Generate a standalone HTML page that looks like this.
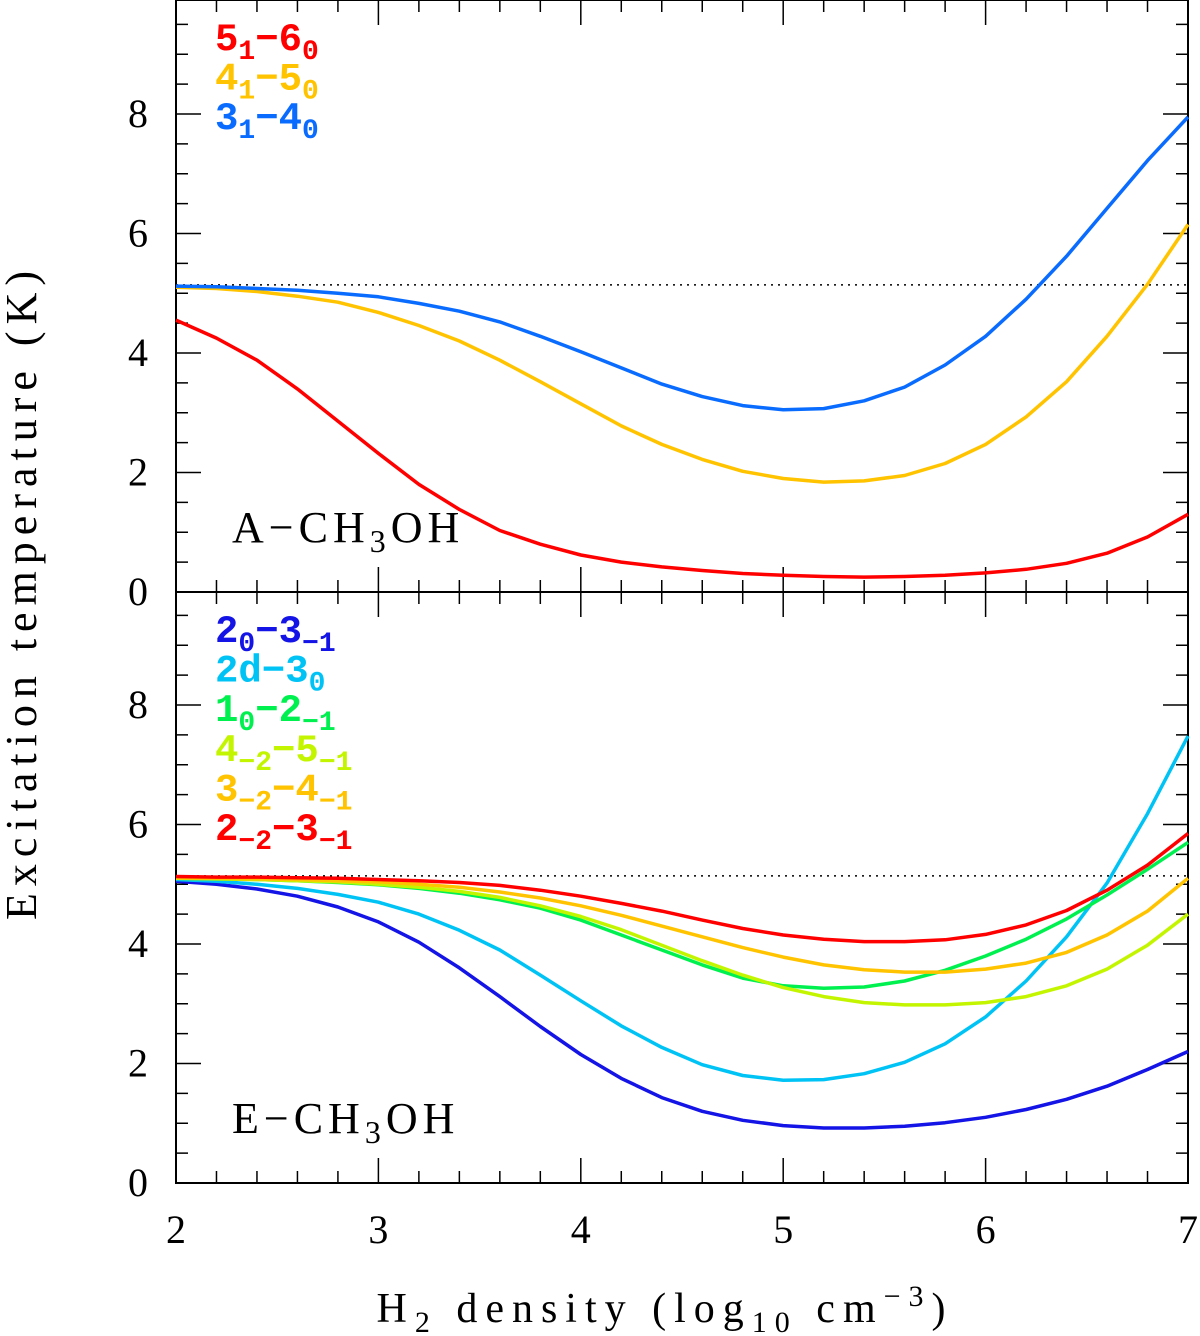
<!DOCTYPE html>
<html><head><meta charset="utf-8"><style>body{margin:0;background:#fff}svg{display:block}</style></head>
<body>
<svg id="chart" width="1200" height="1336" xmlns="http://www.w3.org/2000/svg"></svg>
<script>
const xValues=[2,2.2,2.4,2.6,2.8,3,3.2,3.4,3.6,3.8,4,4.2,4.4,4.6,4.8,5,5.2,5.4,5.6,5.8,6,6.2,6.4,6.6,6.8,7];
const xTicks=[2,3,4,5,6,7];
const yTicks=[0,2,4,6,8];
const refLevel=5.14;
const topLabels=["5_{1}−6_{0}","4_{1}−5_{0}","3_{1}−4_{0}"];
const topColors=["#ff0000","#ffc300","#0a6cff"];
const aRed=[4.55,4.25,3.88,3.4,2.86,2.32,1.8,1.38,1.03,0.8,0.62,0.5,0.42,0.36,0.31,0.28,0.26,0.25,0.26,0.28,0.32,0.38,0.48,0.65,0.92,1.3];
const aYellow=[5.1,5.08,5.03,4.95,4.85,4.68,4.46,4.2,3.88,3.52,3.15,2.78,2.47,2.22,2.02,1.9,1.84,1.86,1.95,2.15,2.47,2.93,3.52,4.28,5.15,6.15];
const aBlue=[5.12,5.11,5.08,5.05,5.0,4.94,4.83,4.7,4.52,4.28,4.02,3.75,3.48,3.27,3.12,3.05,3.07,3.2,3.43,3.8,4.28,4.9,5.62,6.42,7.22,7.95];
const botLabels=["2_{0}−3_{−1}","2d−3_{0}","1_{0}−2_{−1}","4_{−2}−5_{−1}","3_{−2}−4_{−1}","2_{−2}−3_{−1}"];
const botColors=["#1414e6","#00c3f5","#00f050","#c4f500","#ffc300","#ff0000"];
const eDarkBlue=[5.05,5.0,4.92,4.8,4.62,4.37,4.03,3.6,3.12,2.62,2.15,1.75,1.43,1.2,1.05,0.96,0.92,0.92,0.95,1.01,1.1,1.23,1.4,1.62,1.9,2.2];
const eCyan=[5.08,5.05,5.0,4.93,4.83,4.7,4.5,4.23,3.9,3.48,3.05,2.63,2.27,1.98,1.8,1.72,1.73,1.83,2.02,2.33,2.78,3.38,4.12,5.02,6.18,7.48];
const eGreen=[5.1,5.09,5.08,5.06,5.03,4.99,4.93,4.85,4.74,4.6,4.4,4.15,3.9,3.65,3.43,3.3,3.26,3.28,3.38,3.56,3.8,4.08,4.42,4.82,5.25,5.7];
const eYellowGreen=[5.1,5.09,5.08,5.06,5.04,5.0,4.95,4.88,4.78,4.64,4.46,4.24,3.98,3.72,3.48,3.27,3.12,3.02,2.98,2.98,3.02,3.12,3.3,3.58,3.98,4.5];
const eOrange=[5.11,5.1,5.09,5.08,5.06,5.04,5.0,4.95,4.87,4.77,4.64,4.48,4.3,4.12,3.94,3.78,3.65,3.57,3.53,3.53,3.58,3.68,3.86,4.15,4.55,5.1];
const eRed=[5.13,5.12,5.12,5.11,5.1,5.08,5.06,5.03,4.98,4.9,4.8,4.68,4.55,4.4,4.26,4.15,4.08,4.04,4.04,4.07,4.16,4.32,4.56,4.9,5.32,5.85];

const NS="http://www.w3.org/2000/svg";
const svg=document.getElementById('chart');
const X0=176,X1=1188;
const xs=v=>X0+(v-2)/5*(X1-X0);
function mk(tag,attrs,parent){const e=document.createElementNS(NS,tag);for(const k in attrs)e.setAttribute(k,attrs[k]);(parent||svg).appendChild(e);return e;}
function legendText(str,x,y,color,parent){
  const t=mk('text',{x:x,y:y,fill:color,'font-family':'"Liberation Mono","DejaVu Sans Mono",monospace','font-weight':'bold','font-size':'39'},parent);
  const parts=str.split(/(_\{[^}]*\})/);
  let sub=false;
  parts.forEach(p=>{if(!p)return;const ts=document.createElementNS(NS,'tspan');
    if(p.startsWith('_{')){ts.textContent=p.slice(2,-1);ts.setAttribute('font-size','28');ts.setAttribute('dy','9');sub=true;}
    else{ts.textContent=p;if(sub){ts.setAttribute('dy','-9');sub=false;}}
    t.appendChild(ts);});
  return t;
}
function panel(name,top,bottom,series,colors,labels,title){
  const g=mk('g',{});
  
  
  const ys=v=>bottom-v/8*478;
  const fr=mk('rect',{x:X0,y:top,width:X1-X0,height:bottom-top,fill:'none',stroke:'#000','stroke-width':2},g);
  
  
  for(let i=0;i<=25;i++){const v=2+i*0.2;const x=xs(v);const major=i%5===0;const L=major?25:12;
    mk('line',{x1:x,y1:bottom,x2:x,y2:bottom-L,stroke:'#000','stroke-width':1.5},g);
    mk('line',{x1:x,y1:top,x2:x,y2:top+L,stroke:'#000','stroke-width':1.5},g);}
  for(let v=0;v<=10;v+=0.5){const y=ys(v);if(y<top)break;const major=Math.abs(v/2-Math.round(v/2))<1e-6;const L=major?25:12;
    mk('line',{x1:X0,y1:y,x2:X0+L,y2:y,stroke:'#000','stroke-width':1.5},g);
    mk('line',{x1:X1,y1:y,x2:X1-L,y2:y,stroke:'#000','stroke-width':1.5},g);}
  yTicks.forEach(v=>{const t=mk('text',{x:148,y:ys(v)+13,'text-anchor':'end','font-family':'"Liberation Serif",serif','font-size':'40'},g);t.textContent=v;
    
    });
  const rl=mk('line',{x1:X0,y1:ys(refLevel),x2:X1,y2:ys(refLevel),stroke:'#000','stroke-width':1.5,'stroke-dasharray':'2,5'},g);
  
  
  series.forEach((s,k)=>{const d=s.map((v,i)=>(i?'L':'M')+xs(xValues[i]).toFixed(1)+','+ys(v).toFixed(1)).join('');
    const p=mk('path',{d:d,fill:'none',stroke:colors[k],'stroke-width':3.5,'stroke-linejoin':'round'},g);
    
    });
  labels.forEach((l,k)=>{const t=legendText(l,215,top+50+k*39.6,colors[k],g);
    
    });
  const tt=mk('text',{x:232,y:bottom-50,'font-family':'"Liberation Serif",serif','font-size':'44','letter-spacing':'5'},g);
  tt.innerHTML=title[0]+'<tspan font-size="32" dy="10">3</tspan><tspan dy="-10">OH</tspan>';
  
  
}
panel('a-ch3oh',0,592,[aRed,aYellow,aBlue],topColors,topLabels,['A−CH']);
panel('e-ch3oh',592,1183,[eDarkBlue,eCyan,eGreen,eYellowGreen,eOrange,eRed],botColors,botLabels,['E−CH']);
xTicks.forEach(v=>{const t=mk('text',{x:xs(v),y:1243,'text-anchor':'middle','font-family':'"Liberation Serif",serif','font-size':'40'});t.textContent=v;
  
  });
const xt=mk('text',{x:665,y:1322,'text-anchor':'middle','font-family':'"Liberation Serif",serif','font-size':'42','letter-spacing':'8'});
xt.innerHTML='H<tspan font-size="30" dy="10">2</tspan><tspan dy="-10"> density (log</tspan><tspan font-size="30" dy="10">10</tspan><tspan dy="-10"> cm</tspan><tspan font-size="30" dy="-16">−3</tspan><tspan dy="16">)</tspan>';


const yt=mk('text',{x:0,y:0,'text-anchor':'middle','font-family':'"Liberation Serif",serif','font-size':'44','letter-spacing':'7',transform:'translate(36,592) rotate(-90)'});
yt.textContent='Excitation temperature (K)';


</script>
</body></html>
